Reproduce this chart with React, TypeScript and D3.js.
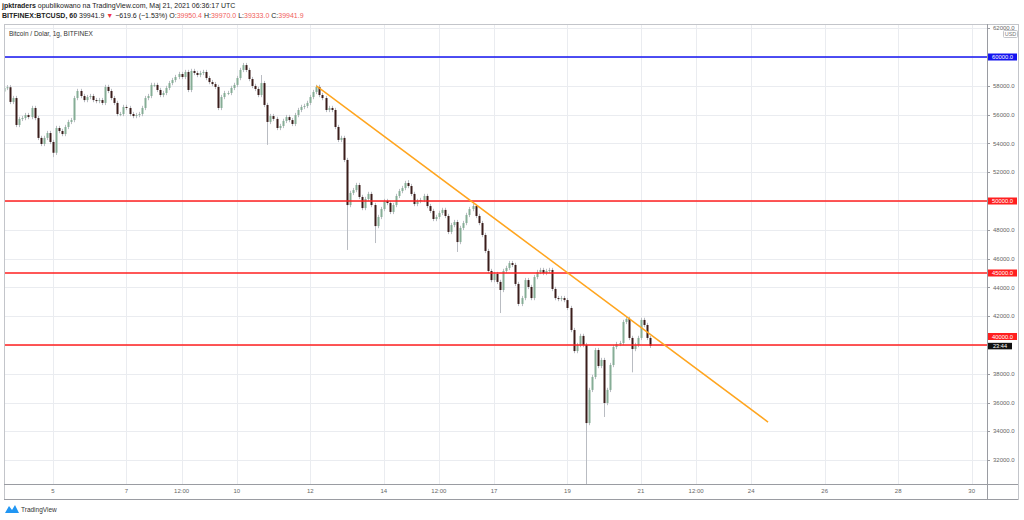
import React from "react"
import * as d3 from "d3"

const startTime = "2021-05-03T16:00:00Z"
const barHours = 2
const firstOpen = 57600
const closes = [
  57850, 57900, 56880, 57150, 55280, 55700, 55760, 55970, 55830, 56460,
  55760, 54380, 53960, 54380, 54720, 54100, 53350, 55070, 54860, 54650,
  55140, 55490, 55620, 57150, 57640, 57290, 57010, 57220, 57290, 57010,
  56940, 57010, 56810, 57920, 57640, 57150, 56810, 56040, 56040, 56530,
  56460, 56040, 55900, 55970, 56040, 56460, 57150, 57290, 58060, 58060,
  57710, 57360, 57500, 57850, 58190, 58400, 58610, 58820, 58610, 58960,
  57710, 59030, 58890, 58750, 58890, 58960, 58540, 58260, 58120, 57920,
  56460, 57220, 57500, 57500, 57850, 58060, 58540, 59100, 59440, 59100,
  58470, 57990, 57780, 57360, 58190, 56670, 55490, 55900, 55700, 55070,
  55210, 55560, 55830, 55620, 55350, 55970, 56320, 56530, 56600, 56810,
  57220, 57570, 57920, 57360, 57150, 56320, 56460, 56320, 55140, 54240,
  54380, 52850, 49720, 50560, 50760, 51110, 50280, 49510, 50140, 50490,
  49720, 48260, 48890, 49440, 50000, 49860, 49240, 49720, 50350, 50690,
  50900, 51250, 51040, 50490, 49790, 50000, 50070, 50350, 49650, 49310,
  48750, 48890, 49170, 49380, 48960, 47850, 48330, 48540, 47150, 48130,
  48470, 49030, 49440, 49650, 48960, 48470, 47640, 46530, 45140, 44510,
  44930, 44380, 43820, 45140, 45350, 45690, 45560, 44240, 42850, 43260,
  44510, 44030, 43260, 44720, 45070, 45210, 45000, 45140, 45210, 43890,
  43260, 43190, 43260, 43120, 42570, 41040, 39580, 40000, 40630, 40000,
  34580, 36880, 37780, 39650, 38540, 38960, 35970, 36880, 38610, 39860,
  40070, 40140, 41600, 41810, 40490, 39720, 40000, 40490, 41740, 41390,
  40490, 39941.9,
]
// long wicks that stand out in the picture
const wickLows: [string, number][] = [
  ["2021-05-05T00:00:00Z", 53050],
  ["2021-05-10T20:00:00Z", 53900],
  ["2021-05-13T00:00:00Z", 46600],
  ["2021-05-13T18:00:00Z", 47080],
  ["2021-05-16T00:00:00Z", 46460],
  ["2021-05-17T04:00:00Z", 42220],
  ["2021-05-19T12:00:00Z", 30000],
  ["2021-05-20T00:00:00Z", 35000],
  ["2021-05-20T18:00:00Z", 38100],
]
const wickHighs: [string, number][] = [
  ["2021-05-10T16:00:00Z", 58750],
  ["2021-05-14T16:00:00Z", 51450],
]

const levels = [
  { price: 60000, color: "#1414f0" },
  { price: 50000, color: "#ff1f1f" },
  { price: 45000, color: "#ff1f1f" },
  { price: 40000, color: "#ff1f1f" },
]
const trend: [string, number][] = [
  ["2021-05-12T04:00:00Z", 58000],
  ["2021-05-24T11:00:00Z", 34650],
]
const priceTicks = d3.range(32000, 62001, 2000)
const timeTicks: [string, string][] = [
  ["2021-05-05T00:00:00Z", "5"],
  ["2021-05-07T00:00:00Z", "7"],
  ["2021-05-08T12:00:00Z", "12:00"],
  ["2021-05-10T00:00:00Z", "10"],
  ["2021-05-12T00:00:00Z", "12"],
  ["2021-05-14T00:00:00Z", "14"],
  ["2021-05-15T12:00:00Z", "12:00"],
  ["2021-05-17T00:00:00Z", "17"],
  ["2021-05-19T00:00:00Z", "19"],
  ["2021-05-21T00:00:00Z", "21"],
  ["2021-05-22T12:00:00Z", "12:00"],
  ["2021-05-24T00:00:00Z", "24"],
  ["2021-05-26T00:00:00Z", "26"],
  ["2021-05-28T00:00:00Z", "28"],
  ["2021-05-30T00:00:00Z", "30"],
]

const W = 1024
const H = 520
const left = 4
const right = 987
const top = 24
const bottom = 484
const axisBottom = 499
const frameRight = 1018
const font = "'Liberation Sans', Arial, sans-serif"
const upColor = "#86ad96"
const downColor = "#3a1d1b"
const wickColor = "#b9bcc2"
const wickPad = 150

export default function App() {
  const x = d3
    .scaleUtc()
    .domain([new Date("2021-05-03T16:00:00Z"), new Date("2021-05-30T10:00:00Z")])
    .range([left, right])
  const y = d3.scaleLinear().domain([30347, 62292]).range([bottom, top])

  const t0 = new Date(startTime)
  const lowMap = new Map(wickLows.map(([t, v]) => [+new Date(t), v]))
  const highMap = new Map(wickHighs.map(([t, v]) => [+new Date(t), v]))
  const bars = closes.map((c, i) => {
    const t = d3.utcHour.offset(t0, i * barHours)
    const o = i === 0 ? firstOpen : closes[i - 1]
    const hi = highMap.get(+t) ?? Math.max(o, c) + wickPad
    const lo = lowMap.get(+t) ?? Math.min(o, c) - wickPad
    return { t, o, c, hi, lo }
  })
  const bw = 2
  const last = closes[closes.length - 1]
  const levelPrices = new Set(levels.map(l => l.price))

  return (
    <div style={{ position: "fixed", left: 0, top: 0 }}>
      <svg width={W} height={H} style={{ display: "block", fontFamily: font }}>
        <rect width={W} height={H} fill="#fff" />
        <defs>
          <clipPath id="plot">
            <rect x={left} y={top} width={right - left} height={bottom - top} />
          </clipPath>
        </defs>

        {/* grid */}
        <g stroke="#eaecf0" strokeWidth={1}>
          {timeTicks.map(([t]) => (
            <line key={t} x1={Math.round(x(new Date(t))) + 0.5} x2={Math.round(x(new Date(t))) + 0.5} y1={top} y2={bottom} />
          ))}
          {priceTicks.map(p => (
            <line key={p} x1={left} x2={right} y1={Math.round(y(p)) + 0.5} y2={Math.round(y(p)) + 0.5} />
          ))}
        </g>

        {/* candles */}
        <g clipPath="url(#plot)">
          {bars.map((b, i) => {
            const cx = Math.round(x(b.t))
            const up = b.c >= b.o
            const y1 = y(Math.max(b.o, b.c))
            const y2 = y(Math.min(b.o, b.c))
            return (
              <g key={i}>
                <line x1={cx + 0.5} x2={cx + 0.5} y1={y(b.hi)} y2={y(b.lo)} stroke={wickColor} strokeWidth={1} />
                <rect x={cx - bw / 2 + 0.5} y={y1} width={bw} height={Math.max(1, y2 - y1)} fill={up ? upColor : downColor} />
              </g>
            )
          })}
        </g>

        {/* horizontal levels */}
        {levels.map(l => (
          <line key={l.price} x1={left} x2={right} y1={y(l.price)} y2={y(l.price)} stroke={l.color} strokeWidth={1.4} />
        ))}

        {/* trend line */}
        <g clipPath="url(#plot)">
          <line
            x1={x(new Date(trend[0][0]))}
            y1={y(trend[0][1])}
            x2={x(new Date(trend[1][0]))}
            y2={y(trend[1][1])}
            stroke="#ffa51f"
            strokeWidth={1.5}
          />
        </g>

        {/* frame and axes */}
        <rect x={left + 0.5} y={top + 0.5} width={frameRight - left} height={axisBottom - top} fill="none" stroke="#c3c5ca" />
        <line x1={left} x2={frameRight} y1={bottom + 0.5} y2={bottom + 0.5} stroke="#9a9ca2" />
        <line x1={right + 0.5} x2={right + 0.5} y1={top} y2={axisBottom} stroke="#9a9ca2" />
        <line x1={left} x2={frameRight} y1={axisBottom + 0.5} y2={axisBottom + 0.5} stroke="#9a9ca2" />

        {/* price axis (labels under the level flags are hidden, as in the snapshot) */}
        <g fontSize={6} fill="#666">
          {priceTicks.map(p => (
            <g key={p}>
              <line x1={right} x2={right + 3} y1={Math.round(y(p)) + 0.5} y2={Math.round(y(p)) + 0.5} stroke="#9a9ca2" />
              {!levelPrices.has(p) && (
                <text x={right + 6} y={y(p)} dy="0.35em">
                  {p.toFixed(1)}
                </text>
              )}
            </g>
          ))}
        </g>
        <rect x={1003.5} y={30.5} width={14} height={7} fill="#fff" stroke="#c3c5ca" rx={1} />
        <text x={1010.5} y={34} dy="0.35em" fontSize={5.5} fill="#777" textAnchor="middle">
          USD
        </text>

        {/* time axis */}
        <g fontSize={6} fill="#666" textAnchor="middle">
          {timeTicks.map(([t, label]) => (
            <text key={t} x={x(new Date(t))} y={491} dy="0.35em">
              {label}
            </text>
          ))}
        </g>

        {/* level labels */}
        {levels.map(l => {
          const cy = l.price === 40000 ? y(l.price) - 8.5 : y(l.price)
          return (
            <g key={l.price}>
              <rect x={988} y={cy - 3.5} width={29} height={7} fill={l.color} />
              <text x={1002.5} y={cy} dy="0.35em" fontSize={5.8} fill="#fff" textAnchor="middle">
                {l.price.toFixed(1)}
              </text>
            </g>
          )
        })}
        <rect x={988} y={y(last) - 3} width={24} height={6.5} fill="#111" />
        <text x={1000} y={y(last) + 0.3} dy="0.35em" fontSize={5.6} fill="#fff" textAnchor="middle">
          23:44
        </text>

        {/* header */}
        <text x={2} y={6} dy="0.35em" fontSize={7} fill="#222">
          <tspan fontWeight="bold">jpktraders</tspan>
          <tspan> opublikowano na TradingView.com, Maj 21, 2021 06:36:17 UTC</tspan>
        </text>
        <text x={2} y={16} dy="0.35em" fontSize={7} fill="#222">
          <tspan fontWeight="bold">BITFINEX:BTCUSD, 60</tspan>
          <tspan> 39941.9 </tspan>
          <tspan fill="#f23645">▼</tspan>
          <tspan> −619.6 (−1.53%) O:</tspan>
          <tspan fill="#f0605d">39950.4</tspan>
          <tspan> H:</tspan>
          <tspan fill="#f0605d">39970.0</tspan>
          <tspan> L:</tspan>
          <tspan fill="#f0605d">39333.0</tspan>
          <tspan> C:</tspan>
          <tspan fill="#f0605d">39941.9</tspan>
        </text>
        <text x={9} y={34} dy="0.35em" fontSize={6.5} fill="#333">
          Bitcoin / Dolar, 1g, BITFINEX
        </text>

        {/* logo */}
        <path d="M5,513 L9,506 L12,510 L15,505 L19,513 Z" fill="#2196f3" />
        <text x={21} y={509.5} dy="0.35em" fontSize={6.5} fill="#333">
          TradingView
        </text>
      </svg>
    </div>
  )
}
